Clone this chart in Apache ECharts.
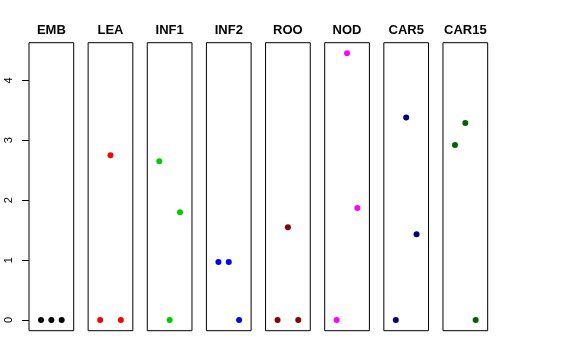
<!DOCTYPE html>
<html>
<head>
<meta charset="utf-8">
<script src="https://cdn.jsdelivr.net/npm/echarts@6/dist/echarts.min.js"></script>
<style>html,body{margin:0;padding:0;background:#fff}#c{width:576px;height:360px}</style>
</head>
<body>
<div id="c"></div>
<script>
const panels = ['EMB','LEA','INF1','INF2','ROO','NOD','CAR5','CAR15'];
const xPos = [2, 3, 4];
const EMB = [0, 0, 0];
const LEA = [0, 2.75, 0];
const INF1 = [2.65, 0, 1.80];
const INF2 = [0.97, 0.97, 0];
const ROO = [0, 1.55, 0];
const NOD = [0, 4.45, 1.87];
const CAR5 = [0, 3.38, 1.43];
const CAR15 = [2.92, 3.29, 0];
const values = [EMB, LEA, INF1, INF2, ROO, NOD, CAR5, CAR15];
const colors = ['#000000','#FF0000','#00CD00','#0000FF','#8B0000','#FF00FF','#000080','#006400'];
const yTicks = [0, 1, 2, 3, 4];

(function () {
const font = 'Liberation Sans, Arial, Helvetica, sans-serif';
const yMin = -0.178, yMax = 4.628;
const left0 = 29, step = 59.14, w = 44.7, gTop = 42.7, h = 288;

const grid = [], xAxis = [], yAxis = [], series = [], graphic = [];
panels.forEach((name, i) => {
  const l = left0 + i * step;
  grid.push({left: l, top: gTop, width: w, height: h, show: true, borderColor: '#000', borderWidth: 1, backgroundColor: 'transparent'});
  xAxis.push({gridIndex: i, type: 'value', min: 0.84, max: 5.16, show: false});
  yAxis.push({
    gridIndex: i, type: 'value', min: yMin, max: yMax,
    show: i === 0,
    splitLine: {show: false},
    axisLine: {show: false},
    axisTick: {show: true, length: 7, lineStyle: {color: '#000'}, customValues: yTicks},
    axisLabel: {show: true, rotate: 90, margin: 15, fontSize: 11, color: '#000', fontFamily: font, customValues: yTicks}
  });
  series.push({
    type: 'scatter', xAxisIndex: i, yAxisIndex: i,
    symbolSize: 6, itemStyle: {color: colors[i], opacity: 1},
    data: xPos.map((x, j) => [x, values[i][j]]),
    silent: true
  });
  graphic.push({type: 'text', x: l + w / 2, y: 30,
    style: {text: name, align: 'center', verticalAlign: 'middle', fontSize: 13, fontWeight: 'bold', fill: '#000', fontFamily: font}});
});

const chart = echarts.init(document.getElementById('c'), null, {renderer: 'canvas'});
chart.setOption({animation: false, grid, xAxis, yAxis, series, graphic});
})();
</script>
</body>
</html>
